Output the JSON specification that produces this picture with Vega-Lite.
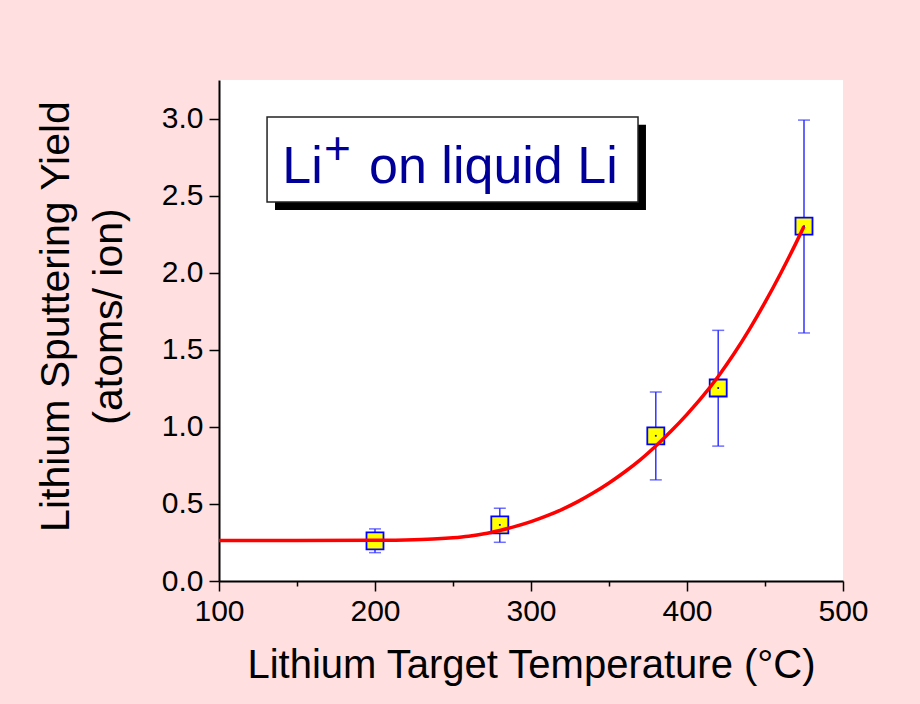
{
  "$schema": "https://vega.github.io/schema/vega-lite/v6.json",
  "width": 624,
  "height": 501,
  "autosize": "none",
  "padding": {"left": 219, "top": 80, "right": 77, "bottom": 123},
  "background": "#FFDFE0",
  "config": {
    "view": {"fill": "white", "stroke": null},
    "font": "Liberation Sans",
    "axis": {
      "grid": false,
      "domainColor": "black",
      "domainWidth": 2,
      "tickColor": "black",
      "tickWidth": 1.5,
      "labelColor": "black",
      "labelFont": "Liberation Sans",
      "labelFontSize": 30,
      "labelFlush": false,
      "labelBound": false,
      "labelOverlap": false,
      "titleColor": "black",
      "titleFont": "Liberation Sans",
      "titleFontSize": 40,
      "titleFontWeight": "normal"
    }
  },
  "datasets": {
    "yield": [
      {"T": 200, "Y": 0.26, "lo": 0.184, "hi": 0.338},
      {"T": 280, "Y": 0.364, "lo": 0.251, "hi": 0.472},
      {"T": 380, "Y": 0.942, "lo": 0.656, "hi": 1.226},
      {"T": 420, "Y": 1.252, "lo": 0.875, "hi": 1.626},
      {"T": 475, "Y": 2.302, "lo": 1.609, "hi": 2.99}
    ],
    "fit": [
      {"T": 100, "Y": 0.263},
      {"T": 150, "Y": 0.263},
      {"T": 200, "Y": 0.264},
      {"T": 225, "Y": 0.268},
      {"T": 240, "Y": 0.274},
      {"T": 250, "Y": 0.281},
      {"T": 260, "Y": 0.291},
      {"T": 270, "Y": 0.306},
      {"T": 280, "Y": 0.328},
      {"T": 290, "Y": 0.354},
      {"T": 300, "Y": 0.385},
      {"T": 310, "Y": 0.422},
      {"T": 320, "Y": 0.465},
      {"T": 330, "Y": 0.515},
      {"T": 340, "Y": 0.572},
      {"T": 350, "Y": 0.636},
      {"T": 360, "Y": 0.707},
      {"T": 370, "Y": 0.786},
      {"T": 380, "Y": 0.876},
      {"T": 390, "Y": 0.974},
      {"T": 400, "Y": 1.081},
      {"T": 410, "Y": 1.197},
      {"T": 420, "Y": 1.327},
      {"T": 430, "Y": 1.472},
      {"T": 440, "Y": 1.632},
      {"T": 450, "Y": 1.807},
      {"T": 460, "Y": 1.995},
      {"T": 470, "Y": 2.195},
      {"T": 475, "Y": 2.3}
    ]
  },
  "layer": [
    {
      "data": {"name": "yield"},
      "mark": {"type": "rule", "color": "#3333FF", "strokeWidth": 1.5},
      "encoding": {
        "x": {
          "field": "T",
          "type": "quantitative",
          "scale": {"domain": [100, 500], "nice": false, "zero": false},
          "axis": {
            "title": "Lithium Target Temperature (°C)",
            "values": [100, 150, 200, 250, 300, 350, 400, 450, 500],
            "labelExpr": "datum.value % 100 === 0 ? format(datum.value, 'd') : ''",
            "tickSize": {"condition": {"test": "datum.value % 100 === 0", "value": 10}, "value": 5},
            "labelPadding": 5,
            "titleX": 312,
            "titleY": 96,
            "titleBaseline": "alphabetic"
          }
        },
        "y": {
          "field": "lo",
          "type": "quantitative",
          "scale": {"domain": [0, 3.25], "nice": false, "zero": false},
          "axis": {
            "title": ["Lithium Sputtering Yield", "\u00a0\u00a0\u00a0(atoms/ ion)"],
            "values": [0, 0.25, 0.5, 0.75, 1, 1.25, 1.5, 1.75, 2, 2.25, 2.5, 2.75, 3, 3.25],
            "labelExpr": "round(datum.value * 4) % 2 === 0 ? format(datum.value, '.1f') : ''",
            "tickSize": {"condition": {"test": "round(datum.value * 4) % 2 === 0", "value": 10}, "value": 5},
            "labelPadding": 6,
            "titleFontSize": 41,
            "titleX": -151,
            "titleY": 236,
            "titleAlign": "center",
            "titleBaseline": "alphabetic",
            "titleLineHeight": 53
          }
        },
        "y2": {"field": "hi"}
      }
    },
    {
      "data": {"name": "yield"},
      "mark": {"type": "tick", "orient": "horizontal", "color": "#3333FF", "size": 12, "thickness": 1.5},
      "encoding": {
        "x": {"field": "T", "type": "quantitative"},
        "y": {"field": "lo", "type": "quantitative"}
      }
    },
    {
      "data": {"name": "yield"},
      "mark": {"type": "tick", "orient": "horizontal", "color": "#3333FF", "size": 12, "thickness": 1.5},
      "encoding": {
        "x": {"field": "T", "type": "quantitative"},
        "y": {"field": "hi", "type": "quantitative"}
      }
    },
    {
      "data": {"name": "yield"},
      "mark": {"type": "point", "shape": "square", "filled": true, "size": 289, "fill": "#FFFF00", "stroke": "#0000FF", "strokeWidth": 1.8, "opacity": 1},
      "encoding": {
        "x": {"field": "T", "type": "quantitative"},
        "y": {"field": "Y", "type": "quantitative"}
      }
    },
    {
      "data": {"name": "yield"},
      "mark": {"type": "point", "shape": "square", "filled": true, "size": 3, "color": "#0000CC", "opacity": 1},
      "encoding": {
        "x": {"field": "T", "type": "quantitative"},
        "y": {"field": "Y", "type": "quantitative"}
      }
    },
    {
      "data": {"name": "fit"},
      "mark": {"type": "line", "color": "#FF0000", "strokeWidth": 3.5, "interpolate": "monotone"},
      "encoding": {
        "x": {"field": "T", "type": "quantitative"},
        "y": {"field": "Y", "type": "quantitative"}
      }
    },
    {
      "data": {"values": [{"part": "shadow"}]},
      "mark": {"type": "rect", "fill": "black"},
      "encoding": {
        "x": {"datum": 135.9, "type": "quantitative"},
        "x2": {"datum": 373.7},
        "y": {"datum": 2.959, "type": "quantitative"},
        "y2": {"datum": 2.407}
      }
    },
    {
      "data": {"values": [{"part": "box"}]},
      "mark": {"type": "rect", "fill": "white", "stroke": "#222222", "strokeWidth": 1.5},
      "encoding": {
        "x": {"datum": 130.8, "type": "quantitative"},
        "x2": {"datum": 368.6},
        "y": {"datum": 3.01, "type": "quantitative"},
        "y2": {"datum": 2.459}
      }
    },
    {
      "data": {"values": [{"text": "Li"}]},
      "mark": {"type": "text", "align": "left", "baseline": "alphabetic", "fontSize": 52, "color": "#000099"},
      "encoding": {
        "x": {"datum": 140.6, "type": "quantitative"},
        "y": {"datum": 2.582, "type": "quantitative"},
        "text": {"field": "text"}
      }
    },
    {
      "data": {"values": [{"text": "+"}]},
      "mark": {"type": "text", "align": "center", "baseline": "alphabetic", "fontSize": 46, "color": "#000099"},
      "encoding": {
        "x": {"datum": 176.0, "type": "quantitative"},
        "y": {"datum": 2.705, "type": "quantitative"},
        "text": {"field": "text"}
      }
    },
    {
      "data": {"values": [{"text": "on liquid Li"}]},
      "mark": {"type": "text", "align": "left", "baseline": "alphabetic", "fontSize": 52, "color": "#000099"},
      "encoding": {
        "x": {"datum": 196.2, "type": "quantitative"},
        "y": {"datum": 2.582, "type": "quantitative"},
        "text": {"field": "text"}
      }
    }
  ]
}
